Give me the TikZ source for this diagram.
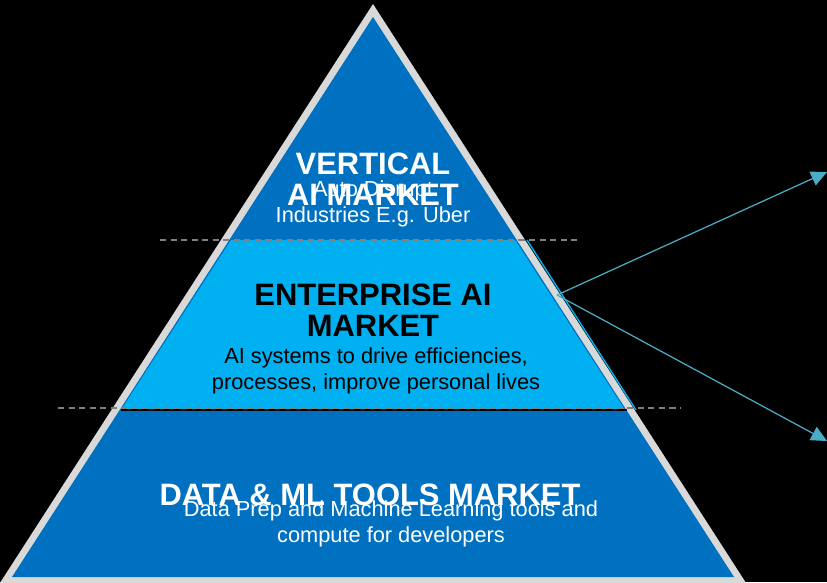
\documentclass[tikz,border=0pt]{standalone}
\usepackage{fontspec}
\setmainfont{Liberation Sans}
\usetikzlibrary{arrows.meta}

\definecolor{darkblue}{HTML}{0070C0}
\definecolor{lightblue}{HTML}{00B0F0}
\definecolor{rim}{HTML}{D9D9D9}
\definecolor{teal}{HTML}{4BACC6}

\tikzset{
  title/.style={font=\bfseries\fontsize{17.6}{17.6}\selectfont, align=center, inner sep=0pt},
  subtitle/.style={font=\fontsize{12.4}{14.8}\selectfont, align=center, inner sep=0pt},
  guide/.style={draw=gray, line width=0.8pt, dash pattern=on 3.5pt off 2.5pt},
  pointer/.style={draw=teal, line width=0.7pt, -{Triangle[length=9pt,width=8.5pt]}}
}

\begin{document}
\begin{tikzpicture}[x=0.02cm, y=-0.02cm]
\useasboundingbox (0,0) rectangle (827,582);
\fill[black] (0,0) rectangle (827,582);

% outer rim and pyramid layers
\fill[rim] (373,4) -- (-2,586) -- (748,586) -- cycle;
\fill[darkblue] (373,17) -- (12,577) -- (734,577) -- cycle;
\fill[lightblue] (231,240) -- (121,410) -- (625,410) -- (515,240) -- cycle;
\draw[lightblue, line width=0.8pt] (527,240) -- (636,410);
\draw[black, line width=1.2pt] (121,410) -- (627,410);

% dashed guides
\draw[guide] (160,240) -- (578,240);
\draw[guide] (58,408) -- (680,408);

% top layer
\node[title, text=white] (vert) at (373,179) {VERTICAL\\AI MARKET};
\node[subtitle, text=white] (vertsub) at (373,203.5) {Auto Disrupt\\Industries E.g. Uber};

% middle layer
\node[title, text=black] (ent) at (373,310) {ENTERPRISE AI\\MARKET};
\node[subtitle, text=black] (entsub) at (376,371) {AI systems to drive efficiencies,\\processes, improve personal lives};

% bottom layer
\node[title, text=white] (data) at (370,495) {DATA \& ML TOOLS MARKET};
\node[subtitle, text=white] (datasub) at (391,524) {Data Prep and Machine Learning tools and\\compute for developers};

% pointers
\coordinate (src) at (557,295);
\coordinate (upend) at (827,172);
\coordinate (downend) at (827,441);
\draw[pointer] (src) -- (upend);
\draw[pointer] (src) -- (downend);
\end{tikzpicture}
\end{document}
